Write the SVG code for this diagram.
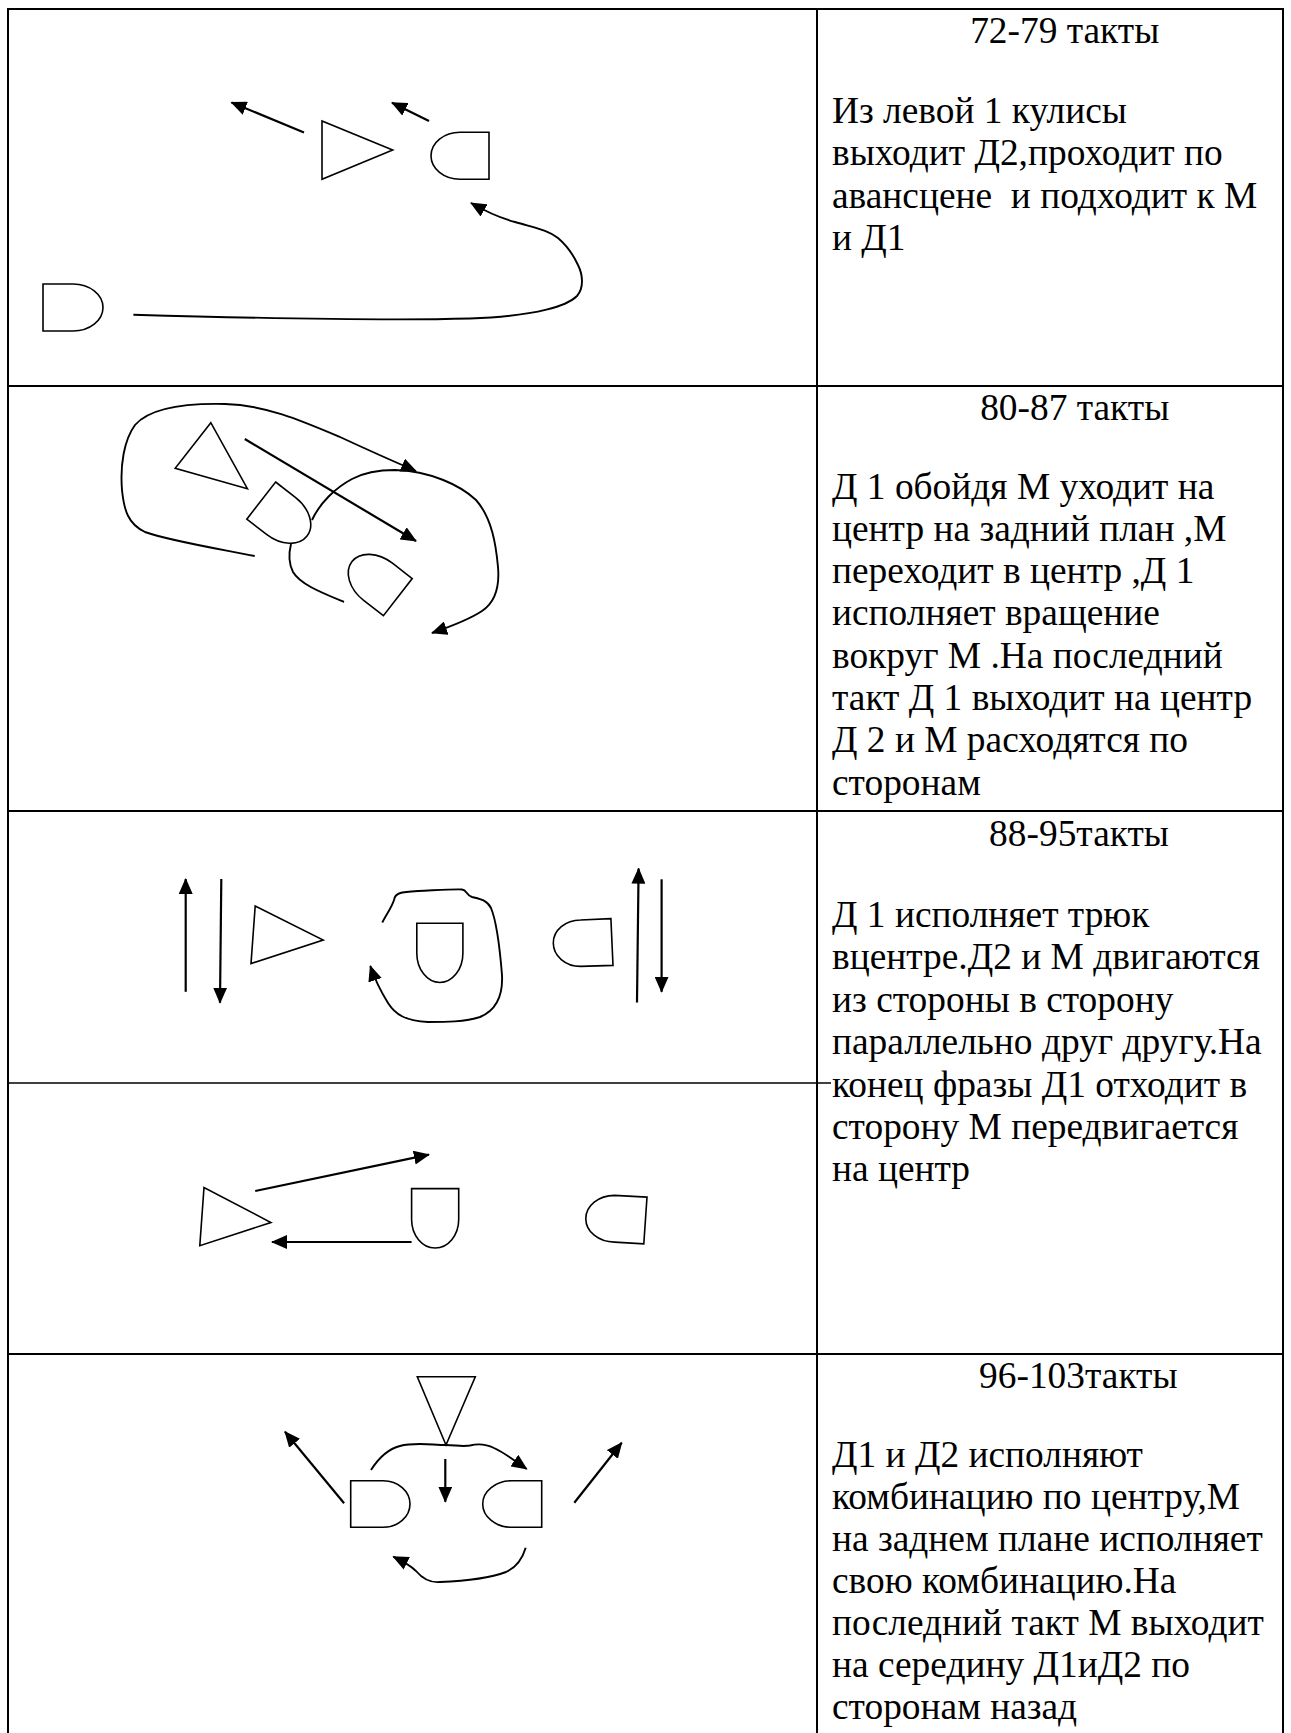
<svg xmlns="http://www.w3.org/2000/svg" width="1291" height="1733" viewBox="0 0 1291 1733">
  <style>
    .grid { stroke: #000; stroke-width: 2; fill: none; }
    .thin { stroke: #000; stroke-width: 1.4; fill: none; }
    .fig { stroke: #000; stroke-width: 1.6; fill: #fff; stroke-linejoin: miter; }
    .mv { stroke: #000; stroke-width: 2.2; fill: none; marker-end: url(#ah); }
    .path { stroke: #000; stroke-width: 1.9; fill: none; }
    .path-a { stroke: #000; stroke-width: 1.9; fill: none; marker-end: url(#ah); }
    text { font-family: "Liberation Serif", "Times New Roman", serif; font-size: 37.4px; fill: #000; white-space: pre; }
    .title { text-anchor: middle; }
  </style>
  <defs>
    <marker id="ah" markerUnits="userSpaceOnUse" viewBox="0 0 16 14" refX="15" refY="7" markerWidth="16" markerHeight="14" orient="auto">
      <path d="M0,0 L16,7 L0,14 Z" fill="#000"/>
    </marker>
    <!-- dancer symbol: flat back on the left, rounded front on the right -->
    <path id="dancer" d="M0,0 L25,0 A33,23.5 0 0 1 25,47 L0,47 Z"/>
  </defs>

  <rect width="1291" height="1733" fill="#fff"/>

  <!-- table grid -->
  <g id="grid">
    <line class="grid" x1="8" y1="9" x2="1283" y2="9"/>
    <line class="grid" x1="8" y1="8" x2="8" y2="1733"/>
    <line class="grid" x1="817" y1="8" x2="817" y2="1733"/>
    <line class="grid" x1="1283" y1="8" x2="1283" y2="1733"/>
    <line class="grid" x1="8" y1="386" x2="1283" y2="386"/>
    <line class="grid" x1="8" y1="811" x2="1283" y2="811"/>
    <line class="grid" x1="8" y1="1354" x2="1283" y2="1354"/>
    <line class="thin" x1="8" y1="1083" x2="831" y2="1083"/>
  </g>

  <!-- bars 72-79 -->
  <g id="r1-d1"><polygon class="fig" points="322,121 322,179.3 392.7,150"/></g>
  <g id="r1-m"><path class="fig" d="M489,132.3 L460,132.3 A29,23.5 0 0 0 460,179.3 L489,179.3 Z"/></g>
  <g id="r1-d2"><path class="fig" d="M43,284 L73,284 A30,23.5 0 0 1 73,331 L43,331 Z"/></g>

  <!-- bars 80-87 -->
  <g id="r2-d1"><polygon class="fig" points="210.8,422.7 175.2,468.3 247.4,488.7"/></g>
  <g id="r2-m"><use href="#dancer" class="fig" transform="translate(275.6,482) rotate(37.8)"/></g>
  <g id="r2-d2"><use href="#dancer" class="fig" transform="translate(383.4,615.7) rotate(217.8)"/></g>

  <!-- bars 88-95, first figure -->
  <g id="r3a-d1"><polygon class="fig" points="255.2,906 251,963.6 323.2,940"/></g>
  <g id="r3a-c"><path class="fig" d="M416.8,923.2 L462.9,923.2 L462.9,953 A23.05,29.5 0 0 1 416.8,953 Z"/></g>
  <g id="r3a-r"><path class="fig" d="M610.9,918.6 L580.5,920 C565.5,920 553.3,930.2 553.3,943 C553.3,955.9 565.5,966.4 580.5,966.4 L613,965.4 Z"/></g>

  <!-- bars 88-95, second figure -->
  <g id="r3b-d1"><polygon class="fig" points="204,1187.5 199.8,1245.7 270.9,1222.5"/></g>
  <g id="r3b-c"><path class="fig" d="M411.6,1188.6 L458.7,1188.6 L458.7,1219.6 A23.55,28.4 0 0 1 411.6,1219.6 Z"/></g>
  <g id="r3b-r"><path class="fig" d="M647,1197.1 L614.5,1195.4 C598.6,1195.4 585.8,1205.8 585.8,1218.7 C585.8,1231.6 598.6,1242.1 614.5,1242.1 L643.8,1243.9 Z"/></g>

  <!-- bars 96-103 -->
  <g id="r4-m"><polygon class="fig" points="417.3,1376.7 475.3,1376.7 446,1445"/></g>
  <g id="r4-d1"><path class="fig" d="M350.7,1480.7 L383.3,1480.7 A26.7,23.3 0 0 1 383.3,1527.3 L350.7,1527.3 Z"/></g>
  <g id="r4-d2"><path class="fig" d="M541.7,1480.7 L511.7,1480.7 A29,23.3 0 0 0 511.7,1527.3 L541.7,1527.3 Z"/></g>

  <!-- movement paths -->
  <g id="connectors">
    <!-- 72-79 -->
    <path class="mv" d="M304,132.5 L231.5,102.5"/>
    <path class="mv" d="M429,121 L392,102.7"/>
    <path class="path-a" d="M133.4,314.7 C250,318 380,321 470,318.5 C540,316 568,305 577,296 C584,288 583,275 578,265 C572,252 565,244 558,238 C548,230 535,228 515,222 C500,218 485,211 471,203"/>

    <!-- 80-87 -->
    <path class="path-a" d="M254.7,556 C220,549 170,541 145,532 C128,524 124,510 122,490 C120,465 124,440 135,425 C148,410 180,403 225,404 C265,405 300,420 340,437 C368,450 395,462 416,471"/>
    <path class="mv" d="M244.8,439 L416,541"/>
    <path class="path" d="M344,602 C320,592 300,584 293,572 C288,562 289,552 291,544"/>
    <path class="path-a" d="M312,520 C320,503 335,488 352,479 C365,472 378,470 395,470 C430,471 460,485 476,500 C492,518 496,545 498,567 C500,590 494,603 482,611 C470,619 455,625 432,633"/>

    <!-- 88-95 -->
    <path class="mv" d="M185.7,991.8 L185.7,879"/>
    <path class="mv" d="M221.3,879 L220,1002.7"/>
    <path class="mv" d="M637,1002.5 L638.6,868.6"/>
    <path class="mv" d="M661.6,879.3 L661.6,991.8"/>
    <path class="path-a" d="M382.3,922.5 C386,915 392,907 394,900 C395,893 400,892 418,891 C440,890 455,889 462,889.5 C467,890 466,895 472,897 C480,899 487,900 491,908 C496,920 500,950 502,975 C503,995 497,1010 480,1017 C465,1022 445,1022 428,1022 C405,1021 395,1014 388,1003 C380,990 375,980 370.3,966"/>
    <path class="mv" d="M255.2,1191 L428.9,1154.6"/>
    <path class="mv" d="M411.6,1242 L272,1242"/>

    <!-- 96-103 -->
    <path class="path-a" d="M371,1470 C378,1459 388,1449 400,1446 C415,1442 432,1445 446,1445 C455,1445 462,1447 470,1445.5 C480,1443 488,1445 494,1448 C505,1453 515,1461 526.7,1469"/>
    <path class="mv" d="M445.3,1459 L445.3,1501.7"/>
    <path class="mv" d="M344.1,1503.3 L285,1431.7"/>
    <path class="mv" d="M574.3,1502.7 L621.7,1442.7"/>
    <path class="path-a" d="M525.7,1547.7 C522,1560 515,1568 506,1572 C490,1578 465,1581 440,1582 C430,1583 422,1578 416,1571 C410,1565 400,1560 393.3,1556.7"/>
  </g>

  <!-- descriptions -->
  <g id="text-72-79">
    <text class="title" x="1064.7" y="43">72-79 такты</text>
    <text x="832" y="123">Из левой 1 кулисы</text>
    <text x="832" y="165.3">выходит Д2,проходит по</text>
    <text x="832" y="207.6">авансцене  и подходит к М</text>
    <text x="832" y="250">и Д1</text>
  </g>
  <g id="text-80-87">
    <text class="title" x="1074.7" y="420">80-87 такты</text>
    <text x="832" y="498.5">Д 1 обойдя М уходит на</text>
    <text x="832" y="540.8">центр на задний план ,М</text>
    <text x="832" y="583.1">переходит в центр ,Д 1</text>
    <text x="832" y="625.4">исполняет вращение</text>
    <text x="832" y="667.7">вокруг М .На последний</text>
    <text x="832" y="710">такт Д 1 выходит на центр</text>
    <text x="832" y="752.3">Д 2 и М расходятся по</text>
    <text x="832" y="794.6">сторонам</text>
  </g>
  <g id="text-88-95">
    <text class="title" x="1079" y="846">88-95такты</text>
    <text x="832" y="927">Д 1 исполняет трюк</text>
    <text x="832" y="969.4">вцентре.Д2 и М двигаются</text>
    <text x="832" y="1011.8">из стороны в сторону</text>
    <text x="832" y="1054.2">параллельно друг другу.На</text>
    <text x="832" y="1096.6">конец фразы Д1 отходит в</text>
    <text x="832" y="1139">сторону М передвигается</text>
    <text x="832" y="1181.4">на центр</text>
  </g>
  <g id="text-96-103">
    <text class="title" x="1078.3" y="1388.3">96-103такты</text>
    <text x="832" y="1466.7">Д1 и Д2 исполняют</text>
    <text x="832" y="1508.7">комбинацию по центру,М</text>
    <text x="832" y="1550.7">на заднем плане исполняет</text>
    <text x="832" y="1592.7">свою комбинацию.На</text>
    <text x="832" y="1634.7">последний такт М выходит</text>
    <text x="832" y="1676.7">на середину Д1иД2 по</text>
    <text x="832" y="1718.7">сторонам назад</text>
  </g>
</svg>
